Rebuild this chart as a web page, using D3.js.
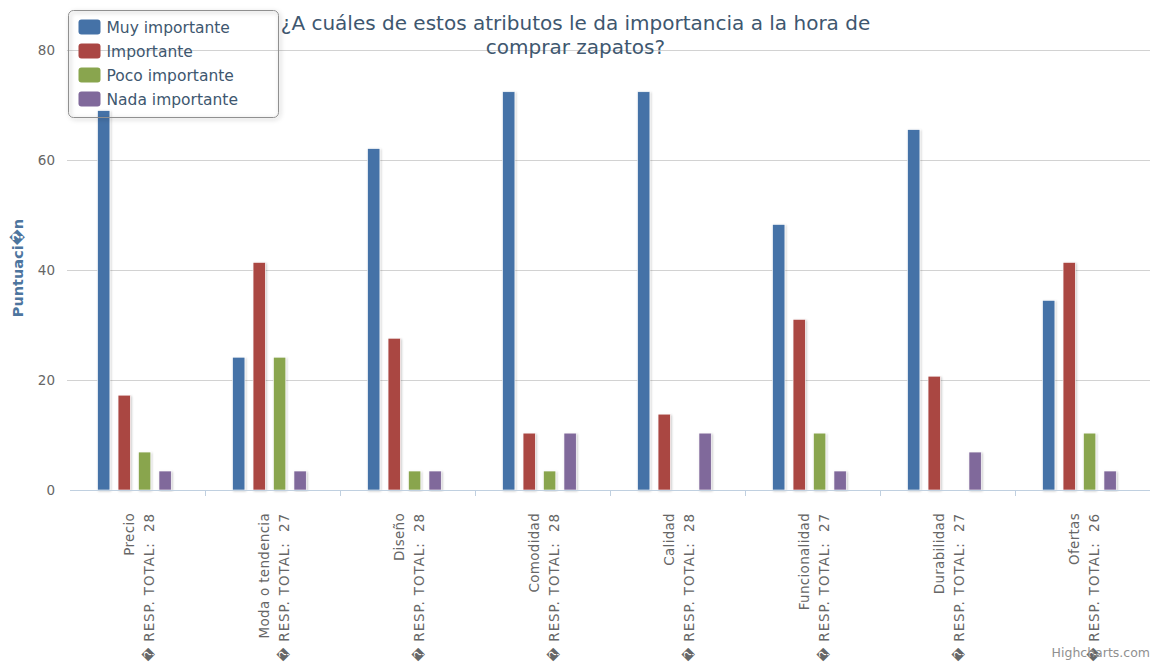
<!DOCTYPE html>
<html>
<head>
<meta charset="utf-8">
<script src="https://cdn.jsdelivr.net/npm/d3@7/dist/d3.min.js"></script>
<style>
  html, body { margin: 0; padding: 0; background: #ffffff; }
  svg { display: block; font-family: "DejaVu Sans", Verdana, sans-serif; }
</style>
</head>
<body>
<svg id="chart" width="1151" height="664"></svg>
<script>
// Survey: which attributes matter when buying shoes (percent of respondents)
const categories = ["Precio", "Moda o tendencia", "Diseño", "Comodidad", "Calidad", "Funcionalidad", "Durabilidad", "Ofertas"];
const totals = [28, 27, 28, 28, 28, 27, 27, 26];
const seriesNames = ["Muy importante", "Importante", "Poco importante", "Nada importante"];
const seriesColors = ["#4572A7", "#AA4643", "#89A54E", "#80699B"];
const muyImportante = [68.97, 24.14, 62.07, 72.41, 72.41, 48.28, 65.52, 34.48];
const importante = [17.24, 41.38, 27.59, 10.34, 13.79, 31.03, 20.69, 41.38];
const pocoImportante = [6.90, 24.14, 3.45, 3.45, 0, 10.34, 0, 10.34];
const nadaImportante = [3.45, 3.45, 3.45, 10.34, 10.34, 3.45, 6.90, 3.45];
const yTicks = [0, 20, 40, 60, 80];
const titleLines = ["¿A cuáles de estos atributos le da importancia a la hora de", "comprar zapatos?"];
const yTitle = "Puntuaci\uFFFDn";

const seriesValues = [muyImportante, importante, pocoImportante, nadaImportante];

const svg = d3.select("#chart");
const plot = { left: 70, right: 1150, top: 50, bottom: 490 };

// shadows for columns and legend box
const defs = svg.append("defs");
const colShadow = defs.append("filter").attr("id", "colShadow")
  .attr("x", "-50%").attr("y", "-10%").attr("width", "200%").attr("height", "120%");
colShadow.append("feDropShadow").attr("dx", 1).attr("dy", 1).attr("stdDeviation", 1.2)
  .attr("flood-color", "#000").attr("flood-opacity", 0.22);
const boxShadow = defs.append("filter").attr("id", "boxShadow")
  .attr("x", "-10%").attr("y", "-10%").attr("width", "120%").attr("height", "130%");
boxShadow.append("feDropShadow").attr("dx", 1.5).attr("dy", 1.5).attr("stdDeviation", 2)
  .attr("flood-color", "#000").attr("flood-opacity", 0.35);

const x = d3.scaleBand().domain(categories).range([plot.left, plot.right]).padding(0);
const xs = d3.scaleBand().domain(seriesNames).range([0, x.bandwidth()])
  .paddingInner(0.4).paddingOuter(1.5).align(0.45);
const y = d3.scaleLinear().domain([0, 80]).range([plot.bottom, plot.top]);

// horizontal grid lines
svg.append("g").selectAll("line").data(yTicks).join("line")
  .attr("x1", plot.left - 3).attr("x2", plot.right)
  .attr("y1", d => Math.round(y(d)) + 0.5).attr("y2", d => Math.round(y(d)) + 0.5)
  .attr("stroke", d => d === 0 ? "none" : "#D2D2D2").attr("stroke-width", 1);

// y tick labels
svg.append("g").selectAll("text").data(yTicks).join("text")
  .attr("x", 55).attr("y", d => y(d)).attr("dy", "0.36em")
  .attr("text-anchor", "end").attr("fill", "#666666").attr("font-size", 13.5)
  .text(d => d);

// y axis title
svg.append("text")
  .attr("transform", `translate(18,${(plot.top + plot.bottom) / 2 - 2}) rotate(-90)`)
  .attr("dy", "0.36em").attr("text-anchor", "middle")
  .attr("fill", "#4D759E").attr("font-weight", "bold").attr("font-size", 14.5)
  .text(yTitle);

// columns
const groups = svg.append("g").selectAll("g").data(seriesNames).join("g")
  .attr("fill", (d, i) => seriesColors[i]);
groups.each(function(name, si) {
  d3.select(this).selectAll("rect").data(seriesValues[si]).join("rect")
    .attr("x", (v, ci) => x(categories[ci]) + xs(name))
    .attr("width", xs.bandwidth())
    .attr("y", v => y(v))
    .attr("height", v => y(0) - y(v))
    .attr("stroke", "#ffffff").attr("stroke-width", 0.6)
    .attr("filter", "url(#colShadow)")
    .style("display", v => v > 0 ? null : "none");
});

// x axis line and category ticks
const xAxis = svg.append("g");
xAxis.append("line")
  .attr("x1", plot.left).attr("x2", plot.right)
  .attr("y1", plot.bottom + 0.5).attr("y2", plot.bottom + 0.5)
  .attr("stroke", "#C0D0E0").attr("stroke-width", 1);
xAxis.selectAll("line.tick").data(categories.slice(1)).join("line")
  .attr("class", "tick")
  .attr("x1", d => Math.round(x(d)) + 0.5).attr("x2", d => Math.round(x(d)) + 0.5)
  .attr("y1", plot.bottom).attr("y2", plot.bottom + 6)
  .attr("stroke", "#C0D0E0").attr("stroke-width", 1);

// rotated two-line category labels
const lbl = svg.append("g").selectAll("g").data(categories).join("g")
  .attr("transform", d => `translate(${x(d) + x.bandwidth() / 2},513) rotate(-90)`)
  .attr("fill", "#666666").attr("font-size", 13.5).attr("text-anchor", "end");
lbl.append("text").attr("x", 0).attr("y", -8.5).attr("dy", "0.36em")
  .attr("letter-spacing", 0.3).text(d => d);
lbl.append("text").attr("x", 0).attr("y", 11.5).attr("dy", "0.36em")
  .attr("letter-spacing", 0.9)
  .attr("xml:space", "preserve").style("white-space", "pre")
  .text((d, i) => "\uFFFD RESP. TOTAL:  " + totals[i]);

// title
svg.append("g").selectAll("text").data(titleLines).join("text")
  .attr("x", 575.5).attr("y", (d, i) => 30 + i * 23.5)
  .attr("text-anchor", "middle").attr("fill", "#3E576F").attr("font-size", 20)
  .text(d => d);

// legend
const legend = svg.append("g").attr("transform", "translate(68.5,10.5)");
legend.append("rect").attr("width", 210).attr("height", 107).attr("rx", 5)
  .attr("fill", "none").attr("stroke", "#909090").attr("stroke-width", 1)
  .attr("filter", "url(#boxShadow)");
const items = legend.selectAll("g.item").data(seriesNames).join("g")
  .attr("class", "item")
  .attr("transform", (d, i) => `translate(0,${16.5 + i * 24})`);
items.append("rect").attr("x", 10).attr("y", -7.5).attr("width", 22).attr("height", 15).attr("rx", 3)
  .attr("fill", (d, i) => seriesColors[i]);
items.append("text").attr("x", 38).attr("dy", "0.36em")
  .attr("fill", "#3E576F").attr("font-size", 15.5).text(d => d);

// credits
svg.append("text").attr("x", 1150).attr("y", 657).attr("text-anchor", "end")
  .attr("fill", "#909090").attr("font-size", 12.5).text("Highcharts.com");
</script>
</body>
</html>
